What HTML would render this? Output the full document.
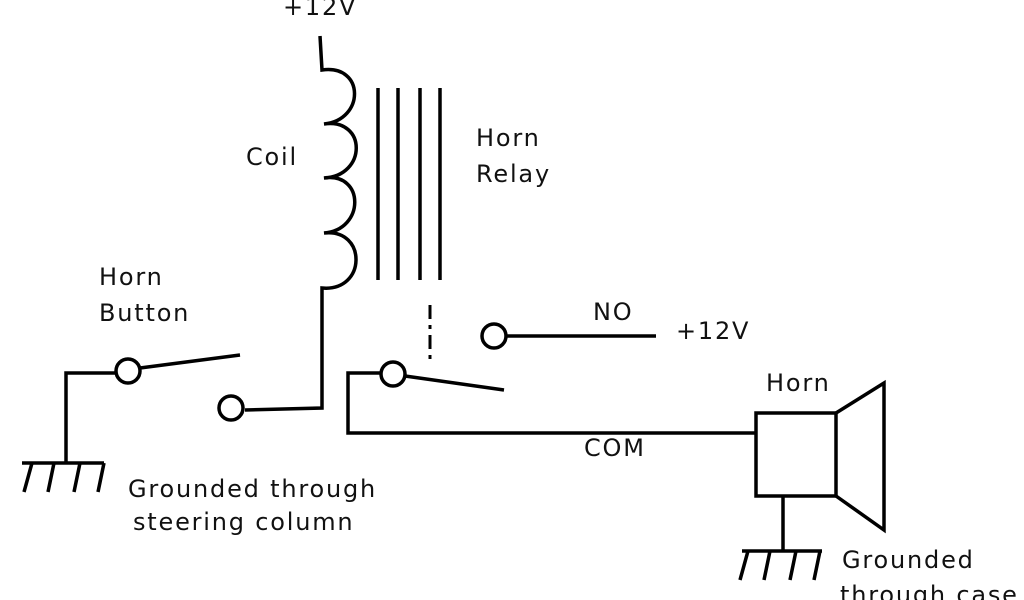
<!DOCTYPE html>
<html><head><style>
body{margin:0;background:#fff;}
svg{display:block;}
text{font-family:"DejaVu Sans","Liberation Sans",sans-serif;font-size:24px;letter-spacing:1.8px;fill:#111;}
</style></head><body>
<svg width="1024" height="600" viewBox="0 0 1024 600" xmlns="http://www.w3.org/2000/svg">
<g fill="none" stroke="#000" stroke-width="3.5">
<path d="M320,36 L322,70 C365,64 365,120 324,124 C367,118 367,176 324,178 C365,172 365,230 324,233 C367,228 367,292 322,288 L322,408 L245,410"/>
<circle cx="231" cy="408" r="12"/>
<line x1="378" y1="88" x2="378" y2="280"/>
<line x1="398" y1="88" x2="398" y2="280"/>
<line x1="420" y1="88" x2="420" y2="280"/>
<line x1="440" y1="88" x2="440" y2="280"/>
<polyline points="66,463 66,373 116,373"/>
<circle cx="128" cy="371" r="12"/>
<line x1="140" y1="368" x2="240" y2="355"/>
<line x1="22" y1="463" x2="104" y2="463"/>
<line x1="32" y1="463" x2="24" y2="492"/>
<line x1="54" y1="463" x2="48" y2="492"/>
<line x1="80" y1="463" x2="74" y2="492"/>
<line x1="104" y1="463" x2="98" y2="492"/>
<line x1="430" y1="305" x2="430" y2="360" stroke-dasharray="14,6,4,6" stroke-width="3"/>
<circle cx="393" cy="374" r="12"/>
<line x1="405" y1="376" x2="504" y2="390"/>
<polyline points="381,373 348,373 348,433 756,433"/>
<circle cx="494" cy="336" r="12"/>
<line x1="506" y1="336" x2="656" y2="336"/>
<rect x="756" y="413" width="80" height="83"/>
<polyline points="836,413 884,383 884,530 836,496"/>
<line x1="783" y1="496" x2="783" y2="551"/>
<line x1="742" y1="551" x2="822" y2="551"/>
<line x1="748" y1="551" x2="740" y2="580"/>
<line x1="770" y1="551" x2="764" y2="580"/>
<line x1="796" y1="551" x2="790" y2="580"/>
<line x1="820" y1="551" x2="814" y2="580"/>
</g>
<text x="283" y="15">+12V</text>
<text x="246" y="165">Coil</text>
<text x="476" y="146">Horn</text>
<text x="476" y="182">Relay</text>
<text x="99" y="285">Horn</text>
<text x="99" y="321">Button</text>
<text x="128" y="497">Grounded through</text>
<text x="133" y="530">steering column</text>
<text x="593" y="320">NO</text>
<text x="676" y="339">+12V</text>
<text x="584" y="456">COM</text>
<text x="766" y="391">Horn</text>
<text x="842" y="568">Grounded</text>
<text x="840" y="603">through case</text>
</svg>
</body></html>
